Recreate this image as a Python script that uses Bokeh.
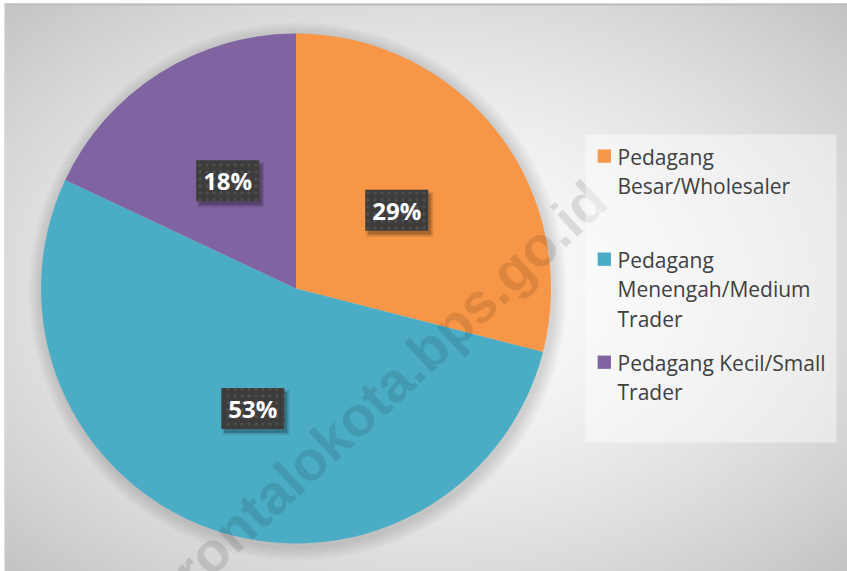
import numpy as np
from bokeh.plotting import figure
from bokeh.models import Range1d
from bokeh.core.properties import value
from bokeh.embed import file_html
from bokeh.resources import INLINE

# ---- data ----
categories = ["Pedagang Besar/Wholesaler", "Pedagang Menengah/Medium Trader", "Pedagang Kecil/Small Trader"]
shares = [29, 53, 18]
labels = ["29%", "53%", "18%"]
legend_lines = [["Pedagang", "Besar/Wholesaler"],
                ["Pedagang", "Menengah/Medium", "Trader"],
                ["Pedagang Kecil/Small", "Trader"]]
colors = ["#F79646", "#4BACC6", "#8064A2"]
watermark = "gorontalokota.bps.go.id"

# ---- layout (data units == screen pixels, y measured upward) ----
W, H = 847, 571
PAGE_H = 571
def sy(y):
    return PAGE_H - y

p = figure(width=W, height=H, x_range=Range1d(0, W), y_range=Range1d(PAGE_H - H, PAGE_H),
           output_backend="svg", toolbar_location=None, min_border=0)
p.axis.visible = False
p.grid.visible = False
p.outline_line_color = None
p.background_fill_color = "white"
p.border_fill_color = "white"

# chart area background: radial gradient
ax0, ay0 = 4, 3          # top-left of chart area (screen)
aw, ah = W - ax0, PAGE_H - ay0
nx, ny = aw // 3, ah // 3
xs = ax0 + (np.arange(nx) + 0.5) * aw / nx
ys = (np.arange(ny) + 0.5) * ah / ny
X, Y = np.meshgrid(xs, ys)
gcx, gcy = 425, sy(287)
d = np.sqrt(((X - gcx) / (aw / 2)) ** 2 + ((Y - gcy) / (ah / 2)) ** 2)
c = np.clip(253 - 33 * d ** 1.6, 185, 255).astype(np.uint32)
img = (255 << 24) | (c << 16) | (c << 8) | c
p.image_rgba(image=[img.astype(np.uint32)], x=ax0, y=0, dw=aw, dh=ah)
p.segment(x0=[ax0], y0=[sy(ay0 + 1)], x1=[W], y1=[sy(ay0 + 1)], line_color="#bdbdbd", line_width=2)
p.segment(x0=[ax0 + 0.5], y0=[sy(ay0)], x1=[ax0 + 0.5], y1=[0], line_color="#d6d6d6", line_width=1)

# pie geometry
cx, cy, R = 295.5, sy(288), 255

# soft shadow around pie
for k in range(14, 0, -2):
    p.circle(x=cx + 2, y=cy - 3, radius=R + k, fill_color="black", fill_alpha=0.02, line_color=None)

fr = np.array(shares, dtype=float) / sum(shares)
cum = np.concatenate([[0.0], np.cumsum(fr)])
start = np.pi / 2 - 2 * np.pi * cum[:-1]
end = np.pi / 2 - 2 * np.pi * cum[1:]
p.wedge(x=cx, y=cy, radius=R, start_angle=start, end_angle=end, direction="clock",
        fill_color=colors, line_color=None)

# watermark
p.text(x=[364], y=[sy(408)], text=[watermark], angle=np.deg2rad(43),
       text_align="center", text_baseline="middle", text_font=value("Liberation Sans"),
       text_font_style="bold", text_font_size="56px", text_color="black", text_alpha=0.11)

# data labels
mid = (start + end) / 2
lx = cx + 0.5 * R * np.cos(mid)
ly = cy + 0.5 * R * np.sin(mid)
p.rect(x=lx + 3, y=ly - 4, width=67, height=45, fill_color="black", fill_alpha=0.12, line_color=None)
p.rect(x=lx + 3, y=ly - 4, width=63, height=41, fill_color="black", fill_alpha=0.22, line_color=None)
p.rect(x=lx, y=ly, width=63, height=41, fill_color="#3c3c3c", line_color=None,
       hatch_pattern="dot", hatch_color="#4e4e4e", hatch_scale=7, hatch_weight=1.0)
p.text(x=lx, y=ly, text=labels, text_align="center", text_baseline="middle",
       text_font=value("Open Sans"), text_font_style="bold", text_font_size="24px", text_color="white")

# legend
p.rect(x=[710.5], y=[sy(288)], width=251, height=308, fill_color="white", fill_alpha=0.45, line_color=None)
slot = 103
for i, lines in enumerate(legend_lines):
    top = 149 + slot * i
    p.rect(x=[603.8], y=[sy(top + 6.7)], width=13.3, height=13.3, fill_color=colors[i], line_color=None)
    for j, t in enumerate(lines):
        p.text(x=[617], y=[sy(top + 7 + 29.5 * j)], text=[t], text_align="left", text_baseline="alphabetic",
               text_font=value("Open Sans"), text_font_size="21px", text_color="#404040")

open("out.html", "w").write(file_html(p, INLINE))
